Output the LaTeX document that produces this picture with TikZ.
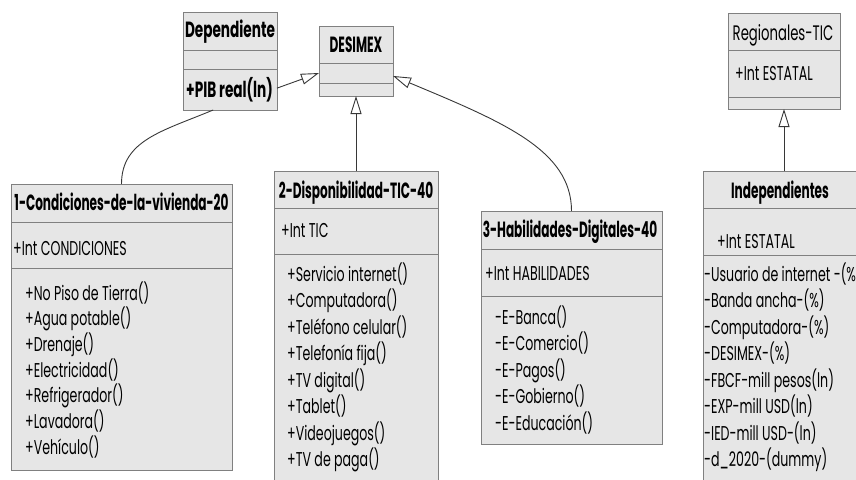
\documentclass[tikz,border=0pt]{standalone}
\usepackage{fontspec}
\setmainfont[FakeStretch=0.63,BoldFeatures={FakeStretch=0.55}]{Poppins}
\newfontfamily\depfont[FakeStretch=0.75,BoldFeatures={FakeStretch=0.62}]{Poppins}
\usetikzlibrary{arrows.meta}
\definecolor{boxfill}{RGB}{230,230,230}
\definecolor{boxline}{RGB}{128,128,128}
\definecolor{conn}{RGB}{55,55,55}
\tikzset{
  umlbox/.style={draw=boxline, fill=boxfill, line width=1pt, inner sep=0pt, outer sep=0pt, anchor=north west, rectangle},
  divline/.style={draw=boxline, line width=1pt},
  ttl/.style={font=\fontsize{22}{26}\selectfont\bfseries, inner sep=0pt, anchor=base},
  depttl/.style={font=\fontsize{22}{26}\selectfont\depfont\bfseries, inner sep=0pt, anchor=base},
  depttlw/.style={depttl, anchor=base west},
  ttlreg/.style={font=\fontsize{21}{25}\selectfont, inner sep=0pt, anchor=base},
  itm/.style={font=\fontsize{20}{24}\selectfont, inner sep=0pt, anchor=base west},
  link/.style={draw=conn, line width=0.9pt},
  inh/.style={link, -{Triangle[length=18pt,width=11pt,fill=white]}},
}
\begin{document}
\begin{tikzpicture}[x=1pt,y=-1pt]
\useasboundingbox (0,0) rectangle (856,479);
\clip (0,0) rectangle (856,479);

% Dependiente
\node[umlbox, minimum width=94pt, minimum height=98pt] (dep) at (183,12) {};
\draw[divline] (183,50) -- (277,50) (183,69) -- (277,69);
\node[depttl] (depT) at (230,37) {Dependiente};
\node[depttlw] (depA) at (186,97) {+PIB real(ln)};

% DESIMEX
\node[umlbox, minimum width=74pt, minimum height=70pt] (des) at (319,26) {};
\draw[divline] (319,63) -- (393,63) (319,83) -- (393,83);
\node[ttl] (desT) at (356,52) {DESIMEX};

% Regionales-TIC
\node[umlbox, minimum width=112pt, minimum height=96pt] (reg) at (728,13) {};
\draw[divline] (728,50) -- (840,50) (728,97) -- (840,97);
\node[ttlreg] (regT) at (783,40) {Regionales-TIC};
\node[itm] (regA) at (735,80) {+Int ESTATAL};

% 1-Condiciones
\node[umlbox, minimum width=221pt, minimum height=286pt] (cond) at (11,184) {};
\draw[divline] (11,222) -- (232,222) (11,268) -- (232,268);
\node[ttl] (condT) at (121.5,210) {1-Condiciones-de-la-vivienda-20};
\node[itm] (condA) at (13,255) {+Int CONDICIONES};
\foreach \t [count=\i from 0] in {+No Piso de Tierra(), +Agua potable(), +Drenaje(), +Electricidad(), +Refrigerador(), +Lavadora(), +Vehículo()}
  \node[itm] (cond\i) at (25,300+25.7*\i) {\t};

% 2-Disponibilidad
\node[umlbox, minimum width=164pt, minimum height=330pt] (disp) at (274,171) {};
\draw[divline] (274,208) -- (438,208) (274,254) -- (438,254);
\node[ttl] (dispT) at (356,198) {2-Disponibilidad-TIC-40};
\node[itm] (dispA) at (281,237) {+Int TIC};
\foreach \t [count=\i from 0] in {+Servicio internet(), +Computadora(), +Teléfono celular(), +Telefonía fija(), +TV digital(), +Tablet(), +Videojuegos(), +TV de paga()}
  \node[itm] (disp\i) at (287,281+26.5*\i) {\t};

% 3-Habilidades
\node[umlbox, minimum width=181pt, minimum height=233pt] (hab) at (481,211) {};
\draw[divline] (481,249) -- (662,249) (481,296) -- (662,296);
\node[ttl] (habT) at (570,237) {3-Habilidades-Digitales-40};
\node[itm] (habA) at (485,280) {+Int HABILIDADES};
\foreach \t [count=\i from 0] in {-E-Banca(), -E-Comercio(), -E-Pagos(), -E-Gobierno(), -E-Educación()}
  \node[itm] (hab\i) at (495,324+26.5*\i) {\t};

% Independientes
\node[umlbox, minimum width=162pt, minimum height=330pt] (ind) at (703,171) {};
\draw[divline] (703,208) -- (865,208) (703,255) -- (865,255);
\node[ttl] (indT) at (780,198) {Independientes};
\node[itm] (indA) at (717,248) {+Int ESTATAL};
\foreach \t [count=\i from 0] in {-Usuario de internet -(\%), -Banda ancha-(\%), -Computadora-(\%), -DESIMEX-(\%), -FBCF-mill pesos(ln), -EXP-mill USD(ln), -IED-mill USD-(ln), -d\_2020-(dummy)}
  \node[itm] (ind\i) at (704,281+26.5*\i) {\t};

% connectors
\draw[inh] (dep.-30) -- (des.198);
\draw[inh] (disp.north) -- (des.south);
\draw[inh] (hab.north) .. controls +(0,-61) and +(110,46) .. (des.-22);
\draw[link] (cond.north) .. controls +(0,-44) and +(-50,21) .. (dep.251);
\draw[inh] (reg.south |- ind.north) -- (reg.south);
\end{tikzpicture}
\end{document}
